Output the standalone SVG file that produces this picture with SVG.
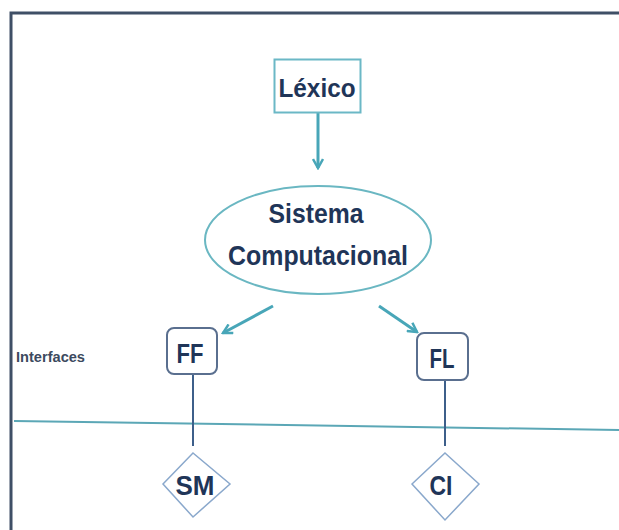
<svg xmlns="http://www.w3.org/2000/svg" width="619" height="530" viewBox="0 0 619 530">
<defs>
<style>
.t{font-family:"Liberation Sans",Arial,sans-serif;font-weight:bold;fill:#1f3558;text-anchor:middle}
.arr{stroke:#48a6b8;stroke-width:3;fill:none}
.vl{stroke:#3d5f8a;stroke-width:2;fill:none}
</style>
<marker id="ah" viewBox="0 0 12 12" refX="10" refY="6" markerWidth="4" markerHeight="4" orient="auto" markerUnits="strokeWidth">
<path d="M1,1 L10,6 L1,11" fill="none" stroke="#48a6b8" stroke-width="2.5" stroke-linejoin="miter"/>
</marker>
</defs>
<rect width="619" height="530" fill="#ffffff"/>
<path d="M11,540 L11,13 L630,13" fill="none" stroke="#3f4f66" stroke-width="3"/>
<line x1="14" y1="421" x2="619" y2="430" stroke="#5ba7b6" stroke-width="2"/>
<text x="16" y="362" class="t" style="text-anchor:start;font-size:14px;fill:#3c4a5e" textLength="69" lengthAdjust="spacingAndGlyphs">Interfaces</text>
<g id="connectors">
<line class="arr" x1="318" y1="112" x2="318" y2="168" marker-end="url(#ah)"/>
<line class="arr" x1="273" y1="306" x2="223" y2="333" marker-end="url(#ah)"/>
<line class="arr" x1="379" y1="306" x2="417" y2="332" marker-end="url(#ah)"/>
<line class="vl" x1="193" y1="374" x2="193" y2="446"/>
<line class="vl" x1="445" y1="380" x2="445" y2="446"/>
</g>
<g id="lexico">
<rect x="274.5" y="59.5" width="86" height="53" fill="#fff" stroke="#6bb8c6" stroke-width="2"/>
<text x="317" y="97" class="t" style="font-size:26px" textLength="77" lengthAdjust="spacingAndGlyphs">Léxico</text>
</g>
<g id="sistema">
<ellipse cx="318" cy="240" rx="113" ry="54" fill="#fff" stroke="#6ab7c2" stroke-width="2"/>
<text x="316" y="223" class="t" style="font-size:27px" textLength="95" lengthAdjust="spacingAndGlyphs">Sistema</text>
<text x="318" y="265" class="t" style="font-size:27px" textLength="180" lengthAdjust="spacingAndGlyphs">Computacional</text>
</g>
<g id="ff">
<rect x="167" y="328" width="50" height="46" rx="7" fill="#fff" stroke="#5a6f8f" stroke-width="2"/>
<text x="190" y="363" class="t" style="font-size:28px" textLength="27" lengthAdjust="spacingAndGlyphs">FF</text>
</g>
<g id="fl">
<rect x="417" y="333" width="51" height="47" rx="7" fill="#fff" stroke="#5a6f8f" stroke-width="2"/>
<text x="442" y="368" class="t" style="font-size:27px" textLength="25" lengthAdjust="spacingAndGlyphs">FL</text>
</g>
<g id="sm">
<polygon points="193,453 230,484 193,517 163,484" fill="#fff" stroke="#8aa8cc" stroke-width="1.5"/>
<text x="195" y="495" class="t" style="font-size:28px" textLength="39" lengthAdjust="spacingAndGlyphs">SM</text>
</g>
<g id="ci">
<polygon points="445,453 479,484 445,520 412,484" fill="#fff" stroke="#8aa8cc" stroke-width="1.5"/>
<text x="441" y="495" class="t" style="font-size:28px" textLength="23" lengthAdjust="spacingAndGlyphs">CI</text>
</g>
</svg>
